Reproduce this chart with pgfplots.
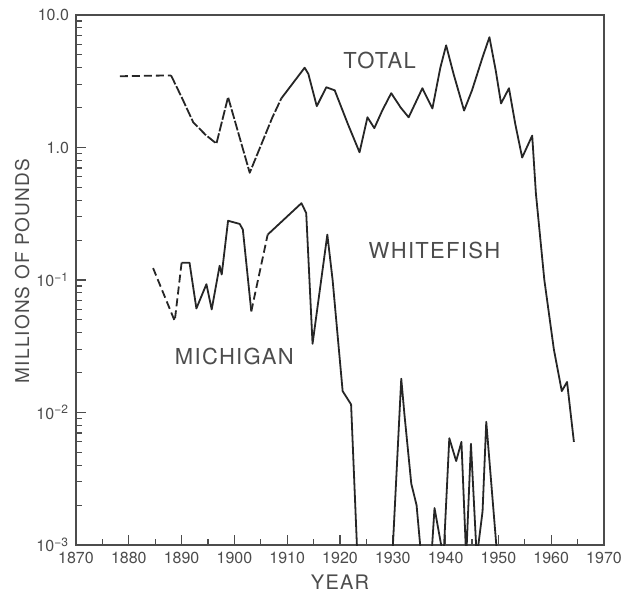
\documentclass[border=0pt]{standalone}
\usepackage{pgfplots}
\pgfplotsset{compat=1.18}
\usepackage{fontspec}
\setmainfont{TeX Gyre Heros}
\newfontfamily\lblfont[LetterSpace=6]{TeX Gyre Heros}
\begin{document}
\begin{tikzpicture}
\begin{axis}[
  ymode=log, scale only axis, width=264pt, height=265pt,
  xmin=1870, xmax=1970, ymin=0.001, ymax=10,
  xtick={1870,1880,...,1970}, minor x tick num=1,
  ytick={0.001,0.01,0.1,1,10},
  yticklabels={10\textsuperscript{−3},10\textsuperscript{−2},10\textsuperscript{−1},1.0,10.0},
  tick align=inside, tick pos=left,
  major tick length=5pt, minor tick length=3pt,
  axis line style={black!70, line width=0.8pt},
  tick style={black!70, line width=0.6pt},
  /pgf/number format/assume math mode=true,
  xticklabel style={font=\fontsize{8}{9}\selectfont, text=black!70, /pgf/number format/1000 sep=},
  yticklabel style={font=\fontsize{8}{9}\selectfont, text=black!70},
  xlabel={YEAR}, ylabel={MILLIONS OF POUNDS},
  xlabel style={at={(axis description cs:0.5,-0.07)}, anchor=center, font=\lblfont\fontsize{10}{12}\selectfont, text=black!70},
  ylabel style={at={(axis description cs:-0.102,0.517)}, anchor=center, font=\lblfont\fontsize{9.5}{11}\selectfont, text=black!70},
]
% TOTAL
\addplot[black!85, line width=0.9pt, line join=round, mark=none, dash pattern=on 4pt off 2pt] coordinates {(1878.3,3.45) (1888,3.5)};
\addplot[black!85, line width=0.9pt, line join=round, mark=none, dash pattern=on 5pt off 1pt] coordinates {(1888,3.5) (1890,2.4) (1892.2,1.55) (1894.5,1.25) (1896.6,1.07) (1898.8,2.4) (1902.9,0.645) (1907.2,1.69) (1908.9,2.35)};
\addplot[black!85, line width=0.9pt, line join=round, mark=none, solid] coordinates {(1908.9,2.35) (1913.3,4.0) (1914,3.6) (1915.6,2.05) (1917.4,2.85) (1919,2.7) (1921.5,1.5) (1923.7,0.92) (1925.2,1.69) (1926.5,1.4) (1928,1.9) (1929.7,2.57) (1931.5,2.0) (1933,1.69) (1935.6,2.8) (1937.5,1.97) (1939,4.0) (1940.1,5.9) (1941.5,3.6) (1943.5,1.9) (1945,2.7) (1947,4.8) (1948.3,6.8) (1949.5,3.8) (1950.5,2.15) (1952,2.8) (1953.2,1.5) (1954.5,0.84) (1956.4,1.23) (1957.1,0.45) (1958.7,0.1) (1960.5,0.03) (1962,0.0145) (1963,0.017) (1964.3,0.006)};
% MICHIGAN
\addplot[black!85, line width=0.9pt, line join=round, mark=none, dash pattern=on 4pt off 2pt] coordinates {(1884.6,0.123) (1888.7,0.049) (1890,0.135)};
\addplot[black!85, line width=0.9pt, line join=round, mark=none, solid] coordinates {(1890,0.135) (1891.5,0.135) (1892.8,0.061) (1894.7,0.093) (1895.7,0.060) (1897.2,0.128) (1897.6,0.11) (1898.8,0.28) (1901,0.265) (1901.6,0.24) (1903.2,0.058)};
\addplot[black!85, line width=0.9pt, line join=round, mark=none, dash pattern=on 4pt off 2pt] coordinates {(1903.2,0.058) (1906.3,0.22)};
\addplot[black!85, line width=0.9pt, line join=round, mark=none, solid] coordinates {(1906.3,0.22) (1912.7,0.38) (1913.6,0.32) (1914.8,0.033) (1917.6,0.22) (1918.6,0.1) (1920.5,0.0145) (1922.1,0.0115) (1923.3,0.0008) (1929.9,0.0008) (1931.6,0.018) (1932.2,0.0097) (1933.5,0.0029) (1934.5,0.002) (1935.4,0.0008) (1937.3,0.0008) (1937.9,0.0019) (1938.8,0.0012) (1939.6,0.0008) (1940.7,0.0064) (1942,0.0043) (1943,0.006) (1943.9,0.0008) (1944.8,0.0058) (1945.9,0.0008) (1947,0.0018) (1947.7,0.0085) (1949.8,0.0008)};
\node[font=\lblfont\fontsize{11}{13}\selectfont, text=black!70] at (axis cs:1927.5,4.56) {TOTAL};
\node[font=\lblfont\fontsize{11}{13}\selectfont, text=black!70] at (axis cs:1937.9,0.166) {WHITEFISH};
\node[font=\lblfont\fontsize{11}{13}\selectfont, text=black!70] at (axis cs:1900,0.0265) {MICHIGAN};
\end{axis}
\pgfresetboundingbox
\path ([shift={(-38pt,-23.5pt)}]current axis.south west) rectangle ([shift={(10pt,7.5pt)}]current axis.north east);
\end{tikzpicture}
\end{document}
